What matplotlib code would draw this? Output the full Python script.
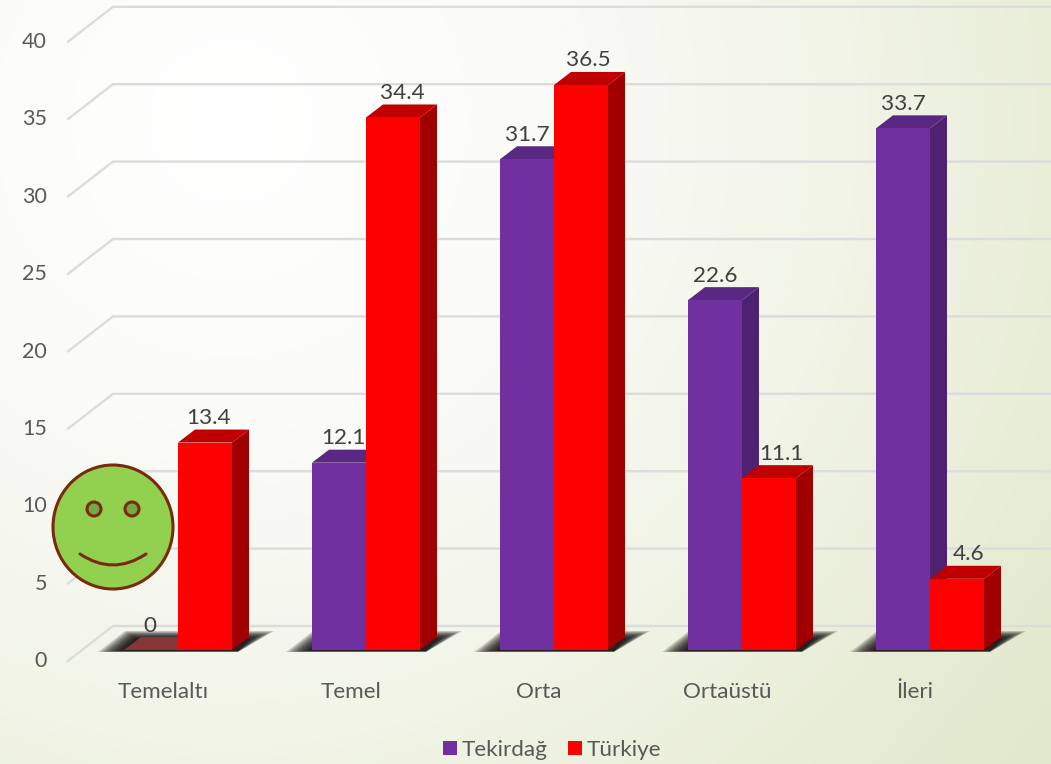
#!/usr/bin/env python3
import numpy as np
import matplotlib
matplotlib.use('Agg')
import matplotlib.pyplot as plt
from matplotlib.colors import LinearSegmentedColormap
from matplotlib.patches import Ellipse, PathPatch, Patch, Polygon
from matplotlib.path import Path

plt.rcParams['font.family'] = ['Lato', 'DejaVu Sans']

categories = ['Temelaltı', 'Temel', 'Orta', 'Ortaüstü', 'İleri']
tekirdag = [0, 12.1, 31.7, 22.6, 33.7]
turkiye = [13.4, 34.4, 36.5, 11.1, 4.6]
y_ticks = [0, 5, 10, 15, 20, 25, 30, 35, 40]

W, H = 1051, 764
PX_X = 188.0    # pixels per category
PX_Y = 15.48    # pixels per value unit
X0, Y0 = 178.0, 650.0   # pixel of category 0 centre / value 0

DX, DY = 17 / PX_X, 13 / PX_Y   # bar depth
BAR = 54 / PX_X
TXT = '#595959'
TXT_DARK = '#404040'
FS = 16.2

fig = plt.figure(figsize=(W / 100, H / 100), dpi=100)
ax = fig.add_axes([0, 0, 1, 1])
xlim = (-X0 / PX_X, (W - X0) / PX_X)
ylim = ((Y0 - H) / PX_Y, Y0 / PX_Y)


def px(x, y):
    # pixel position -> data position
    return (x - X0) / PX_X, (Y0 - y) / PX_Y


# background gradient
gx, gy = np.meshgrid(np.linspace(0, W, 263), np.linspace(0, H, 191))
r = np.hypot(gx - 230, gy - 120) / np.hypot(W - 230, H - 120)
bg = LinearSegmentedColormap.from_list(
    'bg', [(0, '#ffffff'), (0.3, '#fbfbf8'), (0.6, '#f1f4e6'), (1, '#e1e8cb')])
ax.imshow(r, cmap=bg, vmin=0, vmax=1, aspect='auto', zorder=0,
          extent=(xlim[0], xlim[1], ylim[0], ylim[1]), origin='upper',
          interpolation='bilinear')

# walls and floor grid
x_front, x_back = px(68, 0)[0], px(113, 0)[0]
for v in y_ticks:
    ax.plot([x_front, x_back, xlim[1]], [v - 0.7, v + 1.55, v + 1.55],
            c='#dcdcdc', lw=1.7, zorder=1, solid_joinstyle='miter')
    ax.text(px(47, 0)[0], v - 0.72, str(v), ha='right', va='center',
            fontsize=15.5, color=TXT, zorder=6)

# floor shadows under each group, stacked layers give the soft edge
for i in range(len(categories)):
    left, right = X0 + i * PX_X - 54, X0 + i * PX_X + 54
    for s in np.arange(0, 12, 1.0):
        pts = [(left - 26 + 2.2 * s, 652 - 0.1 * s), (right + 6, 652 - 0.1 * s),
               (right + 42 - 2.2 * s, 631 + 0.7 * s), (left + 1 + 1.0 * s, 631 + 0.7 * s)]
        ax.add_patch(Polygon([px(*p) for p in pts], closed=True, fc='#0c0606',
                             ec='none', alpha=0.16, zorder=2))


def bar3d(x, val, front, side, top, z):
    ax.bar(x, val, BAR, align='edge', color=front, zorder=z + 0.2)
    ax.add_patch(Polygon([(x + BAR, 0), (x + BAR + DX, DY),
                          (x + BAR + DX, val + DY), (x + BAR, val)],
                         closed=True, fc=side, ec='none', zorder=z))
    ax.add_patch(Polygon([(x, val), (x + DX, val + DY),
                          (x + BAR + DX, val + DY), (x + BAR, val)],
                         closed=True, fc=top, ec='none', zorder=z + 0.1))


for i, (a, b) in enumerate(zip(tekirdag, turkiye)):
    z = 3 + i * 0.01
    if a > 0:
        bar3d(i - BAR, a, '#7030a0', '#4e2270', '#5a2782', z)
    else:
        # empty bar: only its flat footprint shows
        ax.add_patch(Polygon([(i - BAR, 0), (i - BAR + DX, DY), (i + DX, DY), (i, 0)],
                             closed=True, fc='#853636', ec='none', zorder=z))
    bar3d(i, b, '#ff0000', '#a00000', '#c00000', z + 0.5)

# value labels
shift_a = [-1, 4, 0, 0, 0]
shift_b = [4, 9, 7, 12, 12]
for i in range(len(categories)):
    ax.text(i - BAR / 2 + shift_a[i] / PX_X, tekirdag[i] + DY + 11.5 / PX_Y,
            f'{tekirdag[i]:g}', ha='center', va='center', fontsize=FS,
            color=TXT_DARK, zorder=6)
    ax.text(i + BAR / 2 + shift_b[i] / PX_X, turkiye[i] + DY + 11.5 / PX_Y,
            f'{turkiye[i]:g}', ha='center', va='center', fontsize=FS,
            color=TXT_DARK, zorder=6)
    ax.text(i - 15 / PX_X, px(0, 692)[1], categories[i], ha='center', va='center',
            fontsize=FS, color=TXT, zorder=6)

# smiley
brown = '#7a2a0c'
cx, cy = px(113, 527)
ax.add_patch(Ellipse((cx, cy), 120 / PX_X, 124 / PX_Y, fc='#92d050', ec=brown,
                     lw=2.2, zorder=7))
for ex in (94, 132):
    ax.add_patch(Ellipse(px(ex, 509), 14 / PX_X, 14 / PX_Y, fc='#75a83f', ec=brown,
                         lw=2.2, zorder=8))
smile = Path([px(80, 554), px(113, 576), px(146, 554)],
             [Path.MOVETO, Path.CURVE3, Path.CURVE3])
ax.add_patch(PathPatch(smile, fc='none', ec=brown, lw=2.2, capstyle='round', zorder=8))

handles = [Patch(fc='#7030a0', label='Tekirdağ'), Patch(fc='#ff0000', label='Türkiye')]
ax.legend(handles=handles, ncol=2, frameon=False, loc='center', fontsize=FS,
          bbox_to_anchor=(552 / W, 1 - 750 / H), labelcolor=TXT, handlelength=0.62,
          handleheight=0.62, handletextpad=0.22, columnspacing=0.9)

ax.set_xlim(xlim)
ax.set_ylim(ylim)
ax.axis('off')

fig.savefig('out.png', dpi=100)
